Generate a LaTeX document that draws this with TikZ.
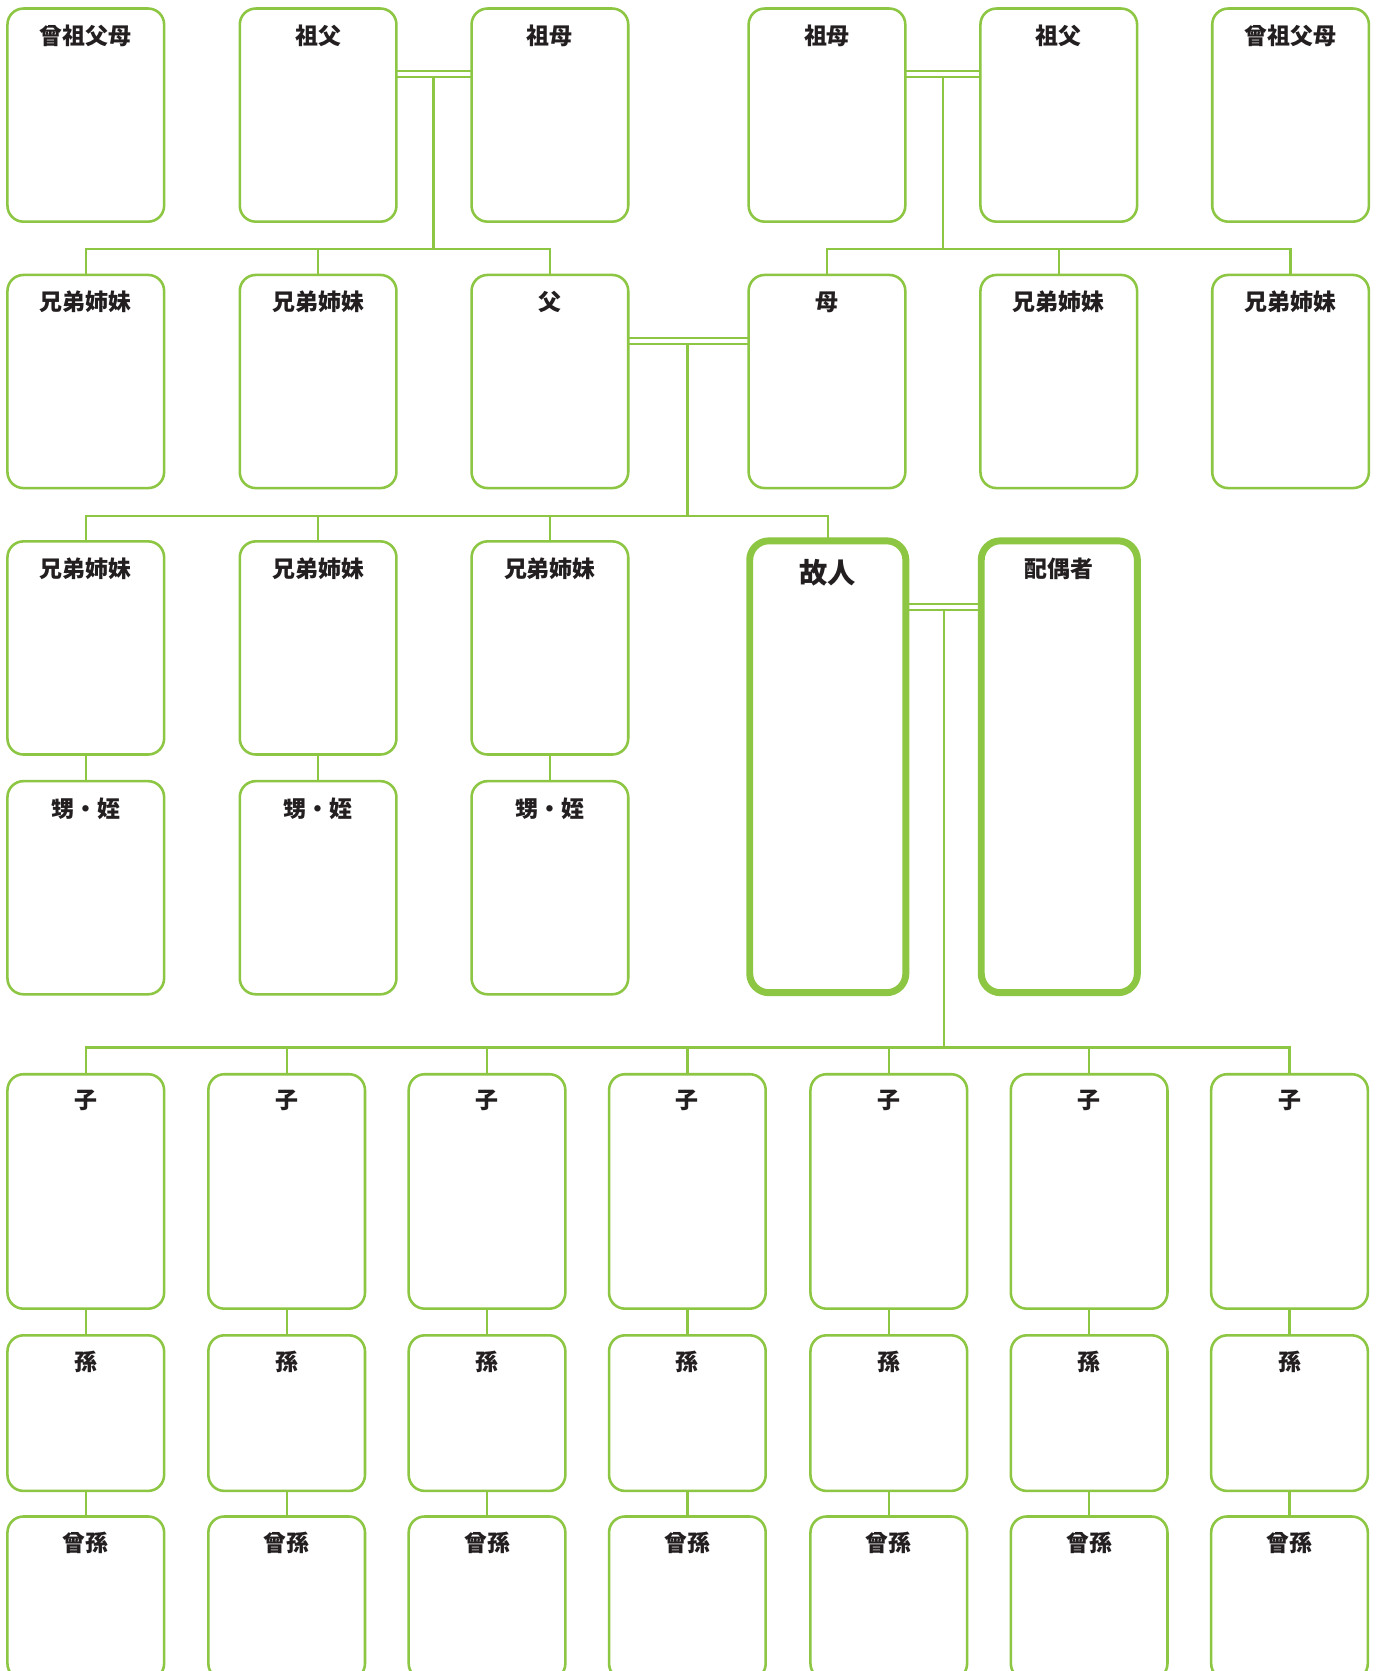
\documentclass[tikz,border=0pt]{standalone}
\usepackage{fontspec}
\newfontfamily\cjk{Noto Sans CJK JP}
\definecolor{grn}{RGB}{141,198,67}
\definecolor{txt}{RGB}{35,31,32}
\pgfdeclarelayer{bg}
\pgfsetlayers{bg,main}
\newcommand\famnode[6]{%
  \node[#2] (#1) at (#3,#4) {};
  \node[lbl] (#1t) at ([yshift=-#5pt]#1.north) {#6};}
\begin{document}
\begin{tikzpicture}[x=1pt,y=-1pt,
  box/.style={draw=grn, line width=2.4pt, rounded corners=15pt, minimum width=147pt,
    minimum height=200pt, anchor=north, inner sep=0pt, outer sep=0pt, fill=white},
  bigbox/.style={box, line width=6.5pt, rounded corners=18pt, minimum width=146.5pt, minimum height=424pt},
  lbl/.style={font=\cjk\bfseries\fontsize{21.5}{26}\selectfont, text=txt, inner sep=0pt},
  conn/.style={draw=grn, line width=2.2pt},
  marr/.style={draw=grn, line width=2pt, double=white, double distance=3pt}]
\useasboundingbox (0,0) rectangle (1293,1568);
% Row 1
\famnode{ggpL}{box}{80.5}{8}{25.5}{曾祖父母}
\famnode{gfL}{box}{298.5}{8}{25.5}{祖父}
\famnode{gmL}{box}{516}{8}{25.5}{祖母}
\famnode{gmR}{box}{776}{8}{25.5}{祖母}
\famnode{gfR}{box}{993.5}{8}{25.5}{祖父}
\famnode{ggpR}{box}{1211}{8}{25.5}{曾祖父母}
% Row 2
\famnode{sibL1}{box}{80.5}{258}{25.5}{兄弟姉妹}
\famnode{sibL2}{box}{298.5}{258}{25.5}{兄弟姉妹}
\famnode{fa}{box}{516}{258}{25.5}{父}
\famnode{mo}{box}{776}{258}{25.5}{母}
\famnode{sibR1}{box}{993.5}{258}{25.5}{兄弟姉妹}
\famnode{sibR2}{box}{1211}{258}{25.5}{兄弟姉妹}
% Row 3
\famnode{s1}{box}{80.5}{508}{25.5}{兄弟姉妹}
\famnode{s2}{box}{298.5}{508}{25.5}{兄弟姉妹}
\famnode{s3}{box}{516}{508}{25.5}{兄弟姉妹}
\node[bigbox] (dec) at (776.75,507.5) {};
\node[lbl, font=\cjk\bfseries\fontsize{26.5}{30}\selectfont] (dect) at ([yshift=-30pt]dec.north) {故人};
\node[bigbox] (sp) at (994,507.5) {};
\node[lbl] (spt) at ([yshift=-26pt]sp.north) {配偶者};
% Row 4
\famnode{n1}{box}{80.5}{733}{25.5}{甥・姪}
\famnode{n2}{box}{298.5}{733}{25.5}{甥・姪}
\famnode{n3}{box}{516}{733}{25.5}{甥・姪}
% Descendants
\foreach \i/\x in {1/80.5,2/269,3/457,4/645,5/834,6/1022,7/1210}{
  \famnode{c\i}{box,minimum height=220pt}{\x}{1008}{25}{子}
  \famnode{g\i}{box,minimum height=146pt}{\x}{1253}{25}{孫}
  \famnode{gg\i}{box,minimum height=153pt}{\x}{1423}{25}{曾孫}
}
% Connectors
\coordinate (mA) at (406.8,69.5);
\coordinate (mAl) at (406.8,72);
\coordinate (jA) at (406.8,233.5);
\coordinate (mB) at (885,69.5);
\coordinate (mBl) at (885,72);
\coordinate (jB) at (885,233.5);
\coordinate (mC) at (645,320);
\coordinate (mCl) at (645,322);
\coordinate (jC) at (645,484);
\coordinate (mD) at (885.5,569.5);
\coordinate (mDl) at (885.5,572);
\coordinate (jD) at (885.5,983);
\begin{pgfonlayer}{bg}
\fill[white] (0,0) rectangle (1293,1568);
\draw[marr] (gfL.east |- mA) -- (gmL.west |- mA);
\draw[conn] (mAl) -- (jA);
\draw[conn] (sibL1.north) |- (jA) -| (fa.north);
\draw[conn] (sibL2.north) -- (sibL2.north |- jA);
\draw[marr] (gmR.east |- mB) -- (gfR.west |- mB);
\draw[conn] (mBl) -- (jB);
\draw[conn] (mo.north) |- (jB) -| (sibR2.north);
\draw[conn] (sibR1.north) -- (sibR1.north |- jB);
\draw[marr] (fa.east |- mC) -- (mo.west |- mC);
\draw[conn] (mCl) -- (jC);
\draw[conn] (s1.north) |- (jC) -| (dec.north);
\draw[conn] (s2.north) -- (s2.north |- jC);
\draw[conn] (s3.north) -- (s3.north |- jC);
\draw[conn] (s1.south) -- (n1.north);
\draw[conn] (s2.south) -- (n2.north);
\draw[conn] (s3.south) -- (n3.north);
\draw[marr] (dec.east |- mD) -- (sp.west |- mD);
\draw[conn] (mDl) -- (jD);
\draw[conn] (c1.north) |- (jD) -| (c7.north);
\foreach \i in {2,...,6}{\draw[conn] (c\i.north) -- (c\i.north |- jD);}
\foreach \i in {1,...,7}{
  \draw[conn] (c\i.south) -- (g\i.north);
  \draw[conn] (g\i.south) -- (gg\i.north);
}
\end{pgfonlayer}
\end{tikzpicture}
\end{document}
